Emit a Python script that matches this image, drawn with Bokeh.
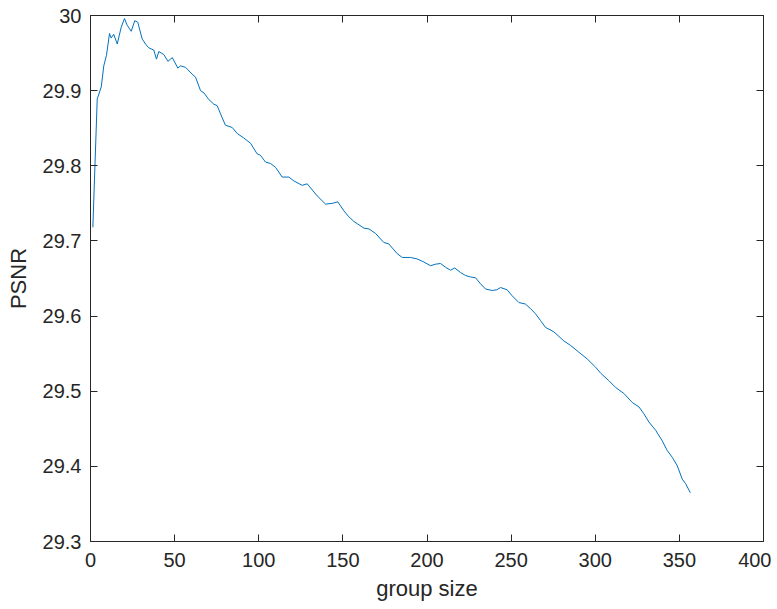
from bokeh.plotting import figure
from bokeh.models import LinearAxis, FixedTicker, CustomJSTickFormatter, Range1d
from bokeh.embed import file_html
from bokeh.resources import INLINE

group_size = [1.4, 4.0, 6.4, 7.9, 9.5, 11.3, 12.3, 13.8, 15.9, 18.2, 20.2, 21.8, 24.2, 26.3, 28.1,
              30.7, 32.7, 34.6, 37.6, 39.2, 40.6, 43.6, 46.0, 48.6, 51.9, 53.5, 56.5, 60.4, 62.4,
              65.4, 67.4, 70.4, 73.3, 75.3, 77.3, 80.2, 84.2, 87.2, 91.1, 95.1, 99.0, 101.0, 104.0,
              107.0, 110.0, 113.9, 117.9, 120.8, 125.8, 128.8, 134.7, 139.7, 143.7, 147.0, 150.6,
              153.6, 156.5, 158.5, 162.5, 165.5, 169.4, 174.3, 177.3, 182.3, 185.3, 190.2, 194.2,
              198.1, 202.1, 205.0, 208.0, 211.0, 214.0, 216.5, 219.9, 222.9, 225.9, 228.8, 231.8,
              234.8, 238.8, 241.5, 243.7, 247.6, 250.6, 254.6, 258.5, 261.5, 264.5, 267.5, 270.4,
              275.4, 281.3, 285.3, 290.2, 295.2, 300.2, 303.2, 308.1, 312.1, 317.0, 322.0, 326.0,
              328.9, 331.9, 335.9, 339.8, 342.8, 345.8, 348.7, 351.7, 353.7, 356.5]
psnr = [29.718, 29.889, 29.905, 29.933, 29.947, 29.976, 29.970, 29.975, 29.962, 29.984, 29.996,
        29.987, 29.979, 29.993, 29.991, 29.969, 29.962, 29.957, 29.954, 29.942, 29.952, 29.948,
        29.939, 29.944, 29.930, 29.933, 29.931, 29.922, 29.918, 29.900, 29.897, 29.888, 29.882,
        29.880, 29.869, 29.854, 29.851, 29.843, 29.837, 29.830, 29.816, 29.814, 29.805, 29.803,
        29.798, 29.785, 29.785, 29.780, 29.774, 29.776, 29.760, 29.749, 29.750, 29.752, 29.740,
        29.732, 29.726, 29.723, 29.717, 29.716, 29.710, 29.698, 29.696, 29.683, 29.678, 29.678,
        29.676, 29.672, 29.667, 29.669, 29.670, 29.665, 29.661, 29.664, 29.658, 29.654, 29.652,
        29.651, 29.643, 29.636, 29.634, 29.635, 29.638, 29.635, 29.627, 29.618, 29.616, 29.610,
        29.603, 29.594, 29.585, 29.579, 29.567, 29.561, 29.552, 29.543, 29.532, 29.524, 29.514,
        29.505, 29.497, 29.485, 29.479, 29.470, 29.459, 29.448, 29.434, 29.421, 29.412, 29.401,
        29.383, 29.377, 29.365]

x_ticks = [0, 50, 100, 150, 200, 250, 300, 350, 400]
y_ticks = [29.3, 29.4, 29.5, 29.6, 29.7, 29.8, 29.9, 30.0]

AX = "#262626"
FONT = "Liberation Sans"

p = figure(frame_width=673, frame_height=526, output_backend="svg", toolbar_location=None,
           x_range=Range1d(0, 400), y_range=Range1d(29.3, 30.0),
           min_border_left=90, min_border_right=8, min_border_top=15, min_border_bottom=62)
p.line(group_size, psnr, line_color="#0072BD", line_width=1)

p.grid.visible = False
p.outline_line_color = AX
p.outline_line_width = 1
p.background_fill_color = "white"
p.border_fill_color = "white"

yfmt = CustomJSTickFormatter(code="return (Math.round(tick*10)/10).toString();")
blank = CustomJSTickFormatter(code="return '';")

def style(ax, ticks, labels=True):
    ax.ticker = FixedTicker(ticks=ticks)
    ax.minor_tick_line_color = None
    ax.major_tick_in = 7
    ax.major_tick_out = 0
    ax.axis_line_color = AX
    ax.major_tick_line_color = AX
    ax.major_label_text_color = AX
    ax.major_label_text_font = FONT
    ax.major_label_text_font_size = "20px"
    ax.axis_label_text_font = FONT
    ax.axis_label_text_font_size = "22px"
    ax.axis_label_text_font_style = "normal"
    ax.axis_label_text_color = AX
    if not labels:
        ax.formatter = blank
        ax.major_label_standoff = 0

style(p.xaxis[0], x_ticks)
style(p.yaxis[0], y_ticks)
p.xaxis[0].axis_label = "group size"
p.xaxis[0].major_label_standoff = 11
p.xaxis[0].axis_label_standoff = 6
p.yaxis[0].axis_label = "PSNR"
p.yaxis[0].major_label_standoff = 9
p.yaxis[0].axis_label_standoff = 9
p.yaxis[0].formatter = yfmt

top = LinearAxis()
style(top, x_ticks, labels=False)
p.add_layout(top, "above")
right = LinearAxis()
style(right, y_ticks, labels=False)
p.add_layout(right, "right")

open("out.html", "w").write(file_html(p, INLINE))
